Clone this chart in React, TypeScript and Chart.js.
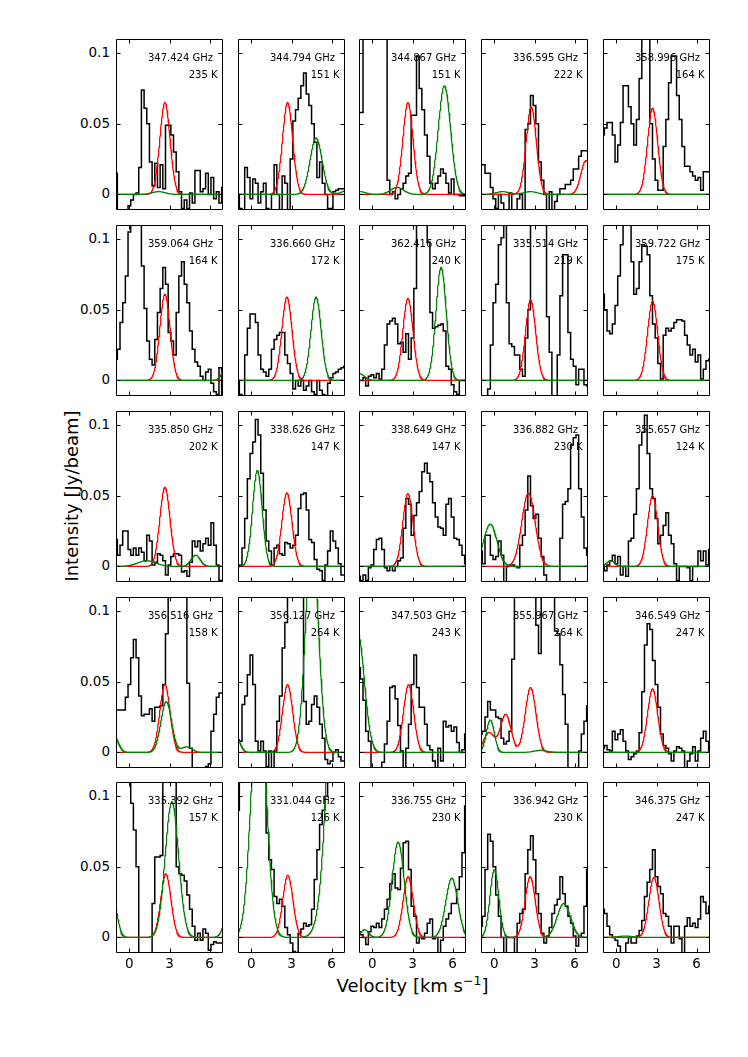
import { useEffect, useRef } from 'react';
import { Chart, registerables } from 'chart.js';

Chart.register(...registerables);

// channel velocities (km/s) shared by every observed spectrum
const velocity = [
  -1, -0.8, -0.6, -0.4, -0.2, 0, 0.2, 0.4, 0.6, 0.8, 1, 1.2, 1.4, 1.6, 1.8, 2, 2.2, 2.4, 2.6, 2.8, 3,
  3.2, 3.4, 3.6, 3.8, 4, 4.2, 4.4, 4.6, 4.8, 5, 5.2, 5.4, 5.6, 5.8, 6, 6.2, 6.4, 6.6, 6.8, 7,
];

const frequency = [
  '347.424', '344.794', '344.867', '336.595', '358.996',
  '359.064', '336.660', '362.416', '335.514', '359.722',
  '335.850', '338.626', '338.649', '336.882', '355.657',
  '356.516', '356.127', '347.503', '355.967', '346.549',
  '335.392', '331.044', '336.755', '336.942', '346.375',
];
const upperEnergy = [
  235, 151, 151, 222, 164,
  164, 172, 240, 219, 175,
  202, 147, 147, 230, 124,
  158, 264, 243, 264, 247,
  157, 126, 230, 230, 247,
];

// observed intensities (Jy/beam), one per channel
const obs347424 = [0.015, -0.015, -0.015, -0.015, -0.015, -0.008, -0.004, 0.0, 0.001, 0.019, 0.074, 0.061, 0.05, 0.023, 0.006, 0.022, 0.005, 0.021, 0.004, 0.049, 0.049, 0.042, 0.03, 0.016, 0.002, -0.01, -0.004, -0.01, 0.001, -0.006, 0.017, 0.017, 0.002, 0.004, 0.015, 0.0, 0.012, -0.003, 0.002, -0.006, 0.005];
const obs344794 = [0.0, -0.01, -0.012, 0.019, 0.012, -0.003, 0.011, 0.008, -0.006, 0.002, 0.008, -0.01, -0.012, 0.0, 0.021, 0.0, -0.015, 0.013, 0.008, -0.012, 0.025, 0.052, 0.06, 0.068, 0.077, 0.086, 0.071, 0.063, 0.05, 0.037, 0.012, 0.023, 0.008, 0.0, -0.01, -0.01, 0.002, 0.003, 0.004, 0.004, 0.004];
const obs344867 = [0.058, 0.058, 0.13, 0.13, 0.13, 0.13, 0.13, 0.13, 0.13, 0.13, 0.13, 0.01, 0.0, 0.002, -0.003, 0.0, 0.004, 0.008, 0.013, 0.015, 0.056, 0.056, 0.098, 0.075, 0.06, 0.042, 0.027, 0.008, 0.004, 0.008, 0.013, 0.018, 0.015, 0.008, 0.001, 0.011, 0.0, 0.0, -0.001, -0.001, -0.001];
const obs336595 = [0.021, 0.021, 0.015, 0.015, 0.005, -0.003, -0.01, 0.0, -0.006, -0.011, -0.011, 0.001, -0.012, -0.012, -0.003, 0.0, -0.015, 0.046, 0.05, 0.07, 0.063, 0.05, 0.023, 0.01, 0.0, -0.012, 0.002, -0.012, -0.005, 0.0, 0.004, 0.004, 0.007, 0.007, 0.01, 0.018, 0.018, 0.027, 0.031, 0.031, 0.031];
const obs358996 = [0.042, 0.047, 0.051, 0.051, 0.042, 0.023, 0.035, 0.051, 0.077, 0.077, 0.062, 0.05, 0.035, 0.053, 0.082, 0.13, 0.13, 0.13, 0.05, 0.025, 0.01, 0.003, 0.003, 0.034, 0.053, 0.079, 0.098, 0.098, 0.07, 0.053, 0.034, 0.02, 0.02, 0.016, 0.013, 0.01, 0.012, 0.003, 0.016, 0.016, 0.016];
const obs359064 = [0.015, 0.022, 0.041, 0.055, 0.074, 0.105, 0.13, 0.13, 0.13, 0.13, 0.081, 0.051, 0.028, 0.015, 0.011, 0.029, 0.048, 0.065, 0.08, 0.068, 0.034, 0.028, 0.018, 0.048, 0.074, 0.084, 0.068, 0.055, 0.035, 0.022, 0.013, 0.01, 0.003, 0.0, 0.006, 0.008, -0.002, -0.008, -0.01, 0.009, -0.01];
const obs336660 = [0.0, -0.01, -0.012, 0.018, 0.037, 0.047, 0.047, 0.041, 0.018, 0.008, 0.006, 0.003, 0.008, 0.022, 0.029, 0.032, 0.034, 0.034, 0.018, 0.012, 0.005, -0.006, 0.0, -0.004, 0.0, -0.007, -0.004, 0.0, -0.008, -0.01, 0.0, -0.007, -0.01, -0.012, -0.002, 0.002, 0.005, 0.006, 0.008, 0.009, 0.01];
const obs362416 = [0.0, 0.0, 0.002, -0.004, 0.003, 0.004, 0.002, 0.005, 0.001, 0.008, 0.025, 0.04, 0.042, 0.044, 0.04, 0.026, 0.027, 0.02, 0.033, 0.015, 0.03, 0.065, 0.13, 0.13, 0.13, 0.13, 0.098, 0.048, 0.037, 0.038, 0.039, 0.04, 0.035, 0.01, 0.008, -0.003, -0.008, -0.01, 0.0, 0.0, 0.0];
const obs335514 = [-0.015, -0.015, -0.015, -0.006, 0.025, 0.055, 0.068, 0.096, 0.101, 0.13, 0.055, 0.026, 0.024, 0.018, 0.018, 0.008, 0.003, 0.03, 0.05, 0.13, 0.13, 0.13, 0.13, 0.13, 0.13, 0.045, 0.02, -0.015, -0.015, 0.018, 0.06, 0.089, 0.089, 0.034, 0.015, 0.01, -0.003, 0.008, 0.008, -0.003, -0.004];
const obs359722 = [0.061, 0.05, 0.035, 0.033, 0.04, 0.053, 0.074, 0.096, 0.13, 0.13, 0.12, 0.084, 0.061, 0.065, 0.084, 0.096, 0.095, 0.089, 0.06, 0.04, 0.03, 0.012, 0.001, 0.032, 0.037, 0.035, 0.037, 0.041, 0.043, 0.043, 0.042, 0.032, 0.025, 0.018, 0.022, 0.013, 0.018, 0.001, 0.008, 0.014, 0.015];
const obs335850 = [0.019, 0.008, 0.015, 0.025, 0.025, 0.012, 0.008, 0.013, 0.008, 0.013, 0.01, 0.004, 0.022, 0.018, 0.001, 0.003, 0.009, 0.008, 0.004, -0.006, 0.001, 0.007, 0.009, 0.009, 0.008, -0.004, -0.003, -0.007, 0.003, 0.018, 0.014, 0.018, 0.011, 0.016, 0.02, 0.015, 0.031, 0.015, 0.001, -0.01, -0.012];
const obs338626 = [0.0, 0.001, 0.013, 0.034, 0.062, 0.08, 0.088, 0.104, 0.093, 0.066, 0.04, 0.018, 0.011, 0.001, 0.013, 0.015, 0.009, 0.008, 0.017, 0.016, 0.013, 0.015, 0.022, 0.041, 0.051, 0.052, 0.04, 0.019, 0.017, 0.005, -0.002, -0.003, -0.01, 0.001, 0.011, 0.025, 0.018, 0.013, 0.002, -0.006, -0.006];
const obs338649 = [-0.007, -0.01, -0.006, -0.01, -0.001, 0.001, 0.012, 0.019, 0.02, 0.012, -0.001, -0.003, 0.0, -0.003, 0.0, 0.004, 0.006, 0.027, 0.048, 0.044, 0.022, 0.036, 0.045, 0.053, 0.067, 0.073, 0.066, 0.06, 0.045, 0.035, 0.028, 0.027, 0.022, 0.044, 0.048, 0.035, 0.02, 0.019, 0.015, 0.008, 0.002];
const obs336882 = [0.011, 0.002, 0.022, 0.022, 0.008, 0.005, 0.007, 0.018, 0.008, -0.015, 0.0, 0.001, 0.001, 0.0, -0.001, 0.015, 0.022, 0.04, 0.064, 0.043, 0.034, 0.037, 0.02, 0.007, -0.006, -0.015, -0.015, -0.015, -0.015, -0.015, 0.02, 0.044, 0.046, 0.055, 0.086, 0.091, 0.093, 0.055, 0.035, 0.013, 0.008];
const obs355657 = [0.001, -0.003, 0.001, 0.004, 0.008, 0.002, 0.007, -0.006, 0.0, -0.007, 0.018, 0.02, 0.037, 0.055, 0.086, 0.095, 0.107, 0.08, 0.055, 0.048, 0.034, 0.016, 0.022, 0.029, 0.038, 0.022, 0.016, 0.002, -0.01, 0.0, 0.0, 0.0, -0.001, -0.01, 0.0, 0.0, 0.011, 0.004, 0.011, 0.001, 0.012];
const obs356516 = [0.03, 0.03, 0.03, 0.03, 0.039, 0.048, 0.067, 0.08, 0.067, 0.04, 0.026, 0.027, 0.027, 0.031, 0.022, 0.032, 0.032, 0.033, 0.048, 0.084, 0.13, 0.13, 0.13, 0.13, 0.13, 0.13, 0.13, 0.049, 0.003, -0.015, -0.015, -0.015, -0.015, -0.015, -0.01, -0.008, 0.015, 0.027, 0.039, 0.042, 0.042];
const obs356127 = [0.009, 0.008, 0.034, 0.04, 0.055, 0.069, 0.048, 0.008, 0.001, 0.008, 0.001, -0.01, 0.001, -0.011, 0.001, 0.022, 0.04, 0.074, 0.092, 0.13, 0.13, 0.13, 0.13, 0.13, 0.13, 0.036, 0.02, 0.022, 0.034, 0.04, 0.032, 0.02, 0.01, -0.005, -0.008, -0.006, 0.0, 0.002, -0.003, -0.006, -0.006];
const obs347503 = [0.06, 0.052, 0.037, 0.015, 0.008, -0.011, -0.015, -0.015, -0.015, -0.007, 0.006, 0.022, 0.046, 0.047, 0.038, 0.019, 0.001, -0.011, 0.003, 0.02, 0.048, 0.069, 0.046, 0.032, 0.032, 0.02, 0.005, 0.002, -0.006, -0.011, 0.003, -0.006, 0.022, 0.018, 0.019, 0.015, 0.018, 0.007, 0.0, 0.002, 0.013];
const obs355967 = [0.013, 0.015, 0.025, 0.036, 0.03, 0.03, 0.025, 0.024, 0.01, 0.006, 0.008, 0.015, 0.066, 0.13, 0.13, 0.13, 0.13, 0.13, 0.13, 0.13, 0.13, 0.09, 0.07, 0.13, 0.13, 0.13, 0.13, 0.13, 0.086, 0.084, 0.062, 0.041, 0.02, -0.015, -0.015, -0.015, -0.015, 0.001, 0.013, 0.022, 0.033];
const obs346549 = [0.003, 0.005, 0.002, 0.001, 0.015, 0.009, 0.013, 0.016, 0.008, 0.001, -0.005, -0.003, -0.001, 0.001, 0.014, 0.043, 0.076, 0.091, 0.087, 0.065, 0.048, 0.032, 0.013, 0.005, 0.003, -0.001, -0.006, 0.001, 0.004, 0.003, 0.001, -0.011, -0.006, -0.001, 0.004, -0.006, 0.001, 0.01, 0.015, 0.008, 0.001];
const obs335392 = [0.13, 0.13, 0.13, 0.13, 0.13, 0.13, 0.095, 0.076, 0.05, -0.015, -0.015, -0.015, -0.015, -0.015, 0.024, 0.057, 0.057, 0.058, 0.13, 0.13, 0.13, 0.13, 0.13, 0.05, 0.045, 0.044, 0.04, 0.03, 0.02, 0.008, -0.002, 0.003, -0.002, 0.006, 0.003, -0.009, -0.005, -0.003, -0.004, -0.004, -0.004];
const obs331044 = [0.09, 0.13, 0.13, 0.13, 0.13, 0.13, 0.13, 0.13, 0.13, 0.13, 0.13, 0.074, 0.055, 0.048, 0.029, 0.024, 0.027, 0.022, 0.007, 0.002, -0.004, -0.01, -0.012, 0.003, 0.006, 0.01, 0.008, 0.009, 0.02, 0.041, 0.062, 0.08, 0.09, 0.1, 0.13, 0.13, 0.13, 0.13, 0.13, 0.13, 0.13];
const obs336755 = [0.004, 0.002, 0.0, -0.005, 0.004, 0.008, 0.007, 0.01, 0.007, 0.013, 0.02, 0.027, 0.038, 0.045, 0.035, 0.034, 0.049, 0.067, 0.068, 0.048, 0.022, 0.015, -0.004, 0.0, -0.001, 0.003, 0.01, 0.013, -0.001, 0.0, -0.011, -0.002, 0.008, 0.013, 0.017, 0.024, 0.024, 0.034, 0.043, 0.06, 0.093];
const obs336942 = [0.008, 0.015, 0.048, 0.073, 0.068, 0.05, 0.03, 0.015, 0.0, -0.011, 0.0, 0.0, 0.0, -0.011, 0.01, 0.017, 0.02, 0.045, 0.062, 0.072, 0.055, 0.031, 0.017, 0.003, -0.004, 0.001, 0.007, 0.017, 0.023, 0.027, 0.043, 0.031, 0.022, 0.015, 0.01, 0.001, -0.006, 0.001, 0.003, 0.022, 0.048];
const obs346375 = [0.02, 0.017, 0.008, 0.002, 0.0, -0.002, -0.006, -0.011, -0.011, -0.004, 0.0, -0.004, -0.004, 0.001, 0.005, 0.012, 0.029, 0.039, 0.048, 0.062, 0.043, 0.036, 0.031, 0.017, 0.015, 0.008, -0.004, 0.008, 0.008, -0.001, -0.011, 0.008, 0.014, 0.008, 0.01, 0.007, 0.013, 0.029, 0.025, 0.017, 0.022];

const observed = [
  obs347424, obs344794, obs344867, obs336595, obs358996,
  obs359064, obs336660, obs362416, obs335514, obs359722,
  obs335850, obs338626, obs338649, obs336882, obs355657,
  obs356516, obs356127, obs347503, obs355967, obs346549,
  obs335392, obs331044, obs336755, obs336942, obs346375,
];

// model line components: [peak (Jy/beam), centre (km/s), sigma (km/s)]
const redLines = [
  [[0.065, 2.66, 0.38]], [[0.065, 2.71, 0.38]], [[0.065, 2.66, 0.38]], [[0.062, 2.76, 0.38], [0.024, 6.85, 0.38]], [[0.061, 2.71, 0.38]],
  [[0.061, 2.66, 0.38]], [[0.059, 2.66, 0.38]], [[0.058, 2.66, 0.38]], [[0.057, 2.71, 0.38]], [[0.056, 2.71, 0.38]],
  [[0.056, 2.66, 0.38]], [[0.052, 2.66, 0.38]], [[0.0515, 2.66, 0.38]], [[0.052, 2.55, 0.5]], [[0.05, 2.71, 0.38]],
  [[0.048, 2.66, 0.38]], [[0.048, 2.71, 0.38]], [[0.048, 2.71, 0.38]], [[0.014, -0.4, 0.4], [0.027, 0.85, 0.4], [0.046, 2.71, 0.4]], [[0.045, 2.71, 0.38]],
  [[0.045, 2.73, 0.38]], [[0.044, 2.73, 0.38]], [[0.043, 2.68, 0.38]], [[0.043, 2.68, 0.38]], [[0.0425, 2.81, 0.38]],
];
const greenLines = [
  [[0.002, 2.2, 0.5]], [[0.04, 4.84, 0.45], [0.004, 7.4, 0.5]], [[0.077, 5.39, 0.46], [0.005, 1.85, 0.5], [0.002, -0.9, 0.4]], [[0.002, 0.6, 0.5], [0.002, 2.7, 0.5]], [],
  [[0.015, 7.5, 0.4]], [[0.059, 4.84, 0.38]], [[0.08, 5.14, 0.39], [0.005, -1.0, 0.4]], [], [],
  [[0.004, 1.3, 0.7], [0.008, 4.96, 0.35]], [[0.068, 0.45, 0.36]], [], [[0.03, -0.3, 0.5]], [[0.004, -0.42, 0.3]],
  [[0.036, 2.76, 0.4], [0.004, 4.3, 0.4], [0.013, -1.2, 0.35]], [[0.153, 4.53, 0.47], [0.01, -1.1, 0.3]], [[0.085, -1.1, 0.5]], [[0.023, -0.3, 0.3], [0.0015, 3.46, 0.5]], [],
  [[0.096, 3.18, 0.5], [0.03, -1.3, 0.35], [0.025, 7.6, 0.4]], [[0.18, 0.55, 0.54], [0.5, 7.0, 0.82]], [[0.0675, 1.93, 0.45], [0.042, 5.94, 0.45], [0.0055, -0.57, 0.3]], [[0.048, 0.0, 0.33], [0.024, 5.19, 0.5]], [[0.001, 0.68, 0.5]],
];

const xTicks = [0, 3, 6];
const xTickLabels = ['0', '3', '6'];
const yTicks = [0, 0.05, 0.1];
const yTickLabels = ['0', '0.05', '0.1'];

const X_MIN = -1;
const X_MAX = 7;
const Y_MIN = -0.011;
const Y_MAX = 0.11;

// page layout (px)
const colLeft = [116, 238, 359, 481, 603];
const rowTop = [39, 225, 411, 597, 782];
const PANEL_W = 107;
const PANEL_H = 171;
const PAD = 3;
const FONT = '"DejaVu Sans", "Liberation Sans", sans-serif';

// sample points for drawing the smooth model curves
const modelGrid = Array.from({ length: 401 }, (_, i) => X_MIN + i * 0.02);

function modelCurve(lines: number[][]) {
  return modelGrid.map((x) => ({
    x,
    y: lines.reduce((sum, [peak, centre, sigma]) => sum + peak * Math.exp(-((x - centre) ** 2) / (2 * sigma * sigma)), 0),
  }));
}

const panelFrame = {
  id: 'panelFrame',
  afterDatasetsDraw(chart: any, _args: any, opts: any) {
    const { ctx, chartArea, scales } = chart;
    const { left, right, top, bottom } = chartArea;
    ctx.save();
    ctx.strokeStyle = '#000';
    ctx.lineWidth = 1;
    ctx.beginPath();
    ctx.rect(left + 0.5, top + 0.5, right - left - 1, bottom - top - 1);
    for (const v of xTicks) {
      const px = Math.round(scales.x.getPixelForValue(v)) + 0.5;
      ctx.moveTo(px, bottom);
      ctx.lineTo(px, bottom - 4.5);
      ctx.moveTo(px, top);
      ctx.lineTo(px, top + 4.5);
    }
    for (const v of yTicks) {
      const py = Math.round(scales.y.getPixelForValue(v)) + 0.5;
      ctx.moveTo(left, py);
      ctx.lineTo(left + 4.5, py);
      ctx.moveTo(right, py);
      ctx.lineTo(right - 4.5, py);
    }
    ctx.stroke();
    ctx.fillStyle = '#000';
    ctx.font = `10px ${FONT}`;
    ctx.textAlign = 'right';
    ctx.textBaseline = 'alphabetic';
    ctx.fillText(`${opts.freq} GHz`, right - 10, top + 22);
    ctx.fillText(`${opts.temp} K`, right - 5.5, top + 38.5);
    ctx.restore();
  },
};

function Panel({ index }: { index: number }) {
  const canvasRef = useRef<HTMLCanvasElement>(null);
  const chartRef = useRef<Chart | null>(null);
  const row = Math.floor(index / 5);
  const col = index % 5;

  useEffect(() => {
    if (!canvasRef.current) return;
    if (chartRef.current) chartRef.current.destroy();

    chartRef.current = new Chart(canvasRef.current, {
      type: 'line',
      data: {
        datasets: [
          {
            data: modelCurve(greenLines[index]),
            borderColor: '#008000',
            borderWidth: 1.25,
            pointRadius: 0,
            fill: false,
          },
          {
            data: modelCurve(redLines[index]),
            borderColor: '#ff0000',
            borderWidth: 1.25,
            pointRadius: 0,
            fill: false,
          },
          {
            data: velocity.map((x, k) => ({ x, y: observed[index][k] })),
            borderColor: '#000000',
            borderWidth: 1.5,
            pointRadius: 0,
            stepped: 'middle',
            fill: false,
          },
        ],
      },
      options: {
        animation: false,
        responsive: false,
        events: [],
        layout: { padding: PAD },
        scales: {
          x: { type: 'linear', min: X_MIN, max: X_MAX, display: false },
          y: { type: 'linear', min: Y_MIN, max: Y_MAX, display: false },
        },
        plugins: {
          legend: { display: false },
          tooltip: { enabled: false },
          panelFrame: { freq: frequency[index], temp: upperEnergy[index] },
        } as any,
      },
      plugins: [panelFrame],
    });

    return () => {
      if (chartRef.current) {
        chartRef.current.destroy();
        chartRef.current = null;
      }
    };
  }, [index]);

  return (
    <canvas
      ref={canvasRef}
      width={PANEL_W + 2 * PAD}
      height={PANEL_H + 2 * PAD}
      style={{ position: 'absolute', left: colLeft[col] - PAD, top: rowTop[row] - PAD }}
    />
  );
}

const yPos = (row: number, v: number) => rowTop[row] + ((Y_MAX - v) / (Y_MAX - Y_MIN)) * PANEL_H;
const xPos = (col: number, v: number) => colLeft[col] + ((v - X_MIN) / (X_MAX - X_MIN)) * PANEL_W;

export default function App() {
  return (
    <div
      style={{
        position: 'absolute',
        left: 0,
        top: 0,
        width: 748,
        height: 1057,
        background: '#fff',
        color: '#000',
        fontFamily: FONT,
        overflow: 'hidden',
      }}
    >
      {observed.map((_, i) => (
        <Panel key={i} index={i} />
      ))}

      {rowTop.map((_, r) =>
        yTicks.map((v, k) => (
          <div
            key={`y${r}-${k}`}
            style={{
              position: 'absolute',
              right: 748 - 110,
              top: yPos(r, v),
              transform: 'translateY(-50%)',
              fontSize: 13.5,
              lineHeight: 1,
              whiteSpace: 'nowrap',
            }}
          >
            {yTickLabels[k]}
          </div>
        ))
      )}

      {colLeft.map((_, c) =>
        xTicks.map((v, k) => (
          <div
            key={`x${c}-${k}`}
            style={{
              position: 'absolute',
              left: xPos(c, v),
              top: 963.5,
              transform: 'translate(-50%, -50%)',
              fontSize: 13.5,
              lineHeight: 1,
              whiteSpace: 'nowrap',
            }}
          >
            {xTickLabels[k]}
          </div>
        ))
      )}

      <div
        style={{
          position: 'absolute',
          left: 71.5,
          top: 495.5,
          transform: 'translate(-50%, -50%) rotate(-90deg)',
          fontSize: 18,
          lineHeight: 1,
          whiteSpace: 'nowrap',
        }}
      >
        Intensity [Jy/beam]
      </div>

      <div
        style={{
          position: 'absolute',
          left: 412.5,
          top: 986,
          transform: 'translate(-50%, -50%)',
          fontSize: 18,
          lineHeight: 1,
          whiteSpace: 'nowrap',
        }}
      >
        Velocity [km s<sup style={{ fontSize: 12.5, verticalAlign: 0, position: 'relative', top: -7 }}>−1</sup>]
      </div>
    </div>
  );
}
